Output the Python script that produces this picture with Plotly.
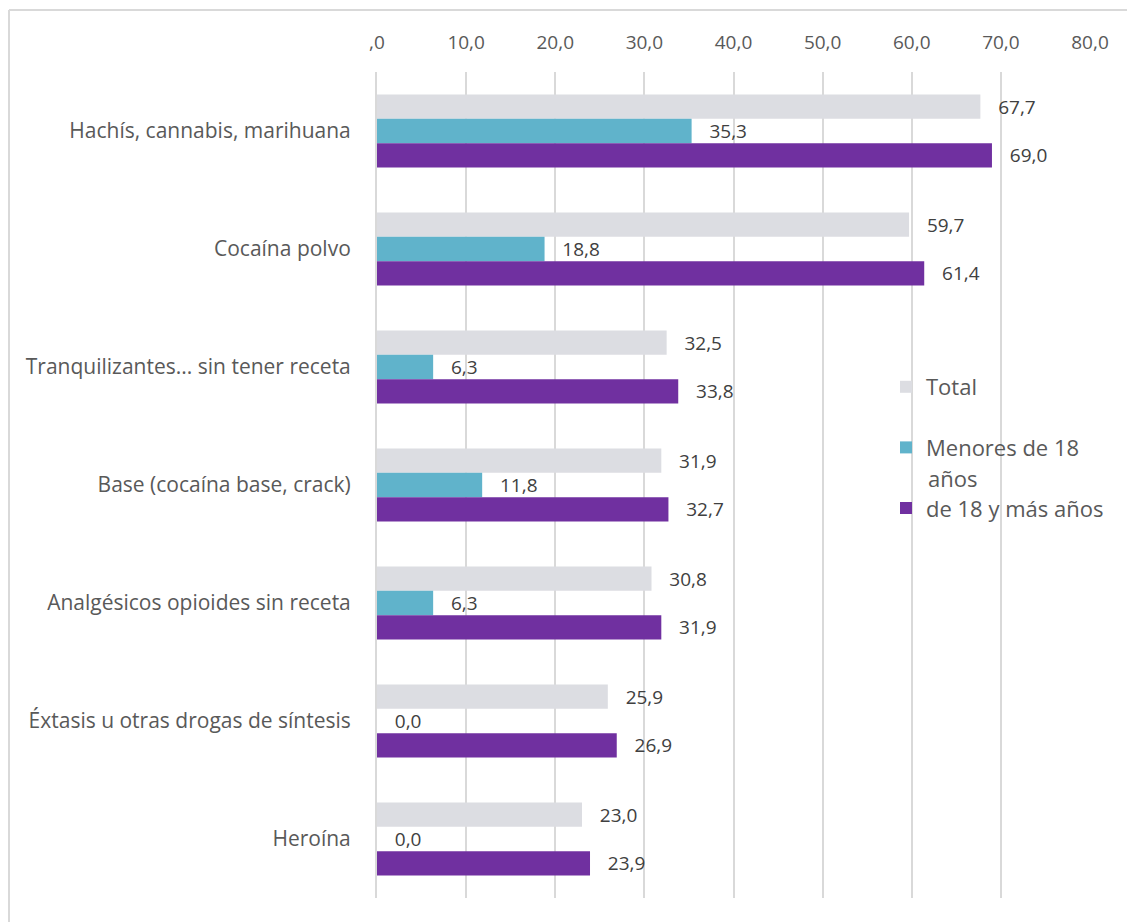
import plotly.graph_objects as go

categories = [
    "Hachís, cannabis, marihuana",
    "Cocaína polvo",
    "Tranquilizantes... sin tener receta",
    "Base (cocaína base, crack)",
    "Analgésicos opioides sin receta",
    "Éxtasis u otras drogas de síntesis",
    "Heroína",
]
total = [67.7, 59.7, 32.5, 31.9, 30.8, 25.9, 23.0]
menores = [35.3, 18.8, 6.3, 11.8, 6.3, 0.0, 0.0]
adultos = [69.0, 61.4, 33.8, 32.7, 31.9, 26.9, 23.9]
series_names = ["Total", "Menores de 18", "de 18 y más años"]
legend_extra = "años"
colors = ["#DCDDE2", "#60B3CB", "#7030A0"]
tick_vals = [0, 10, 20, 30, 40, 50, 60, 70, 80]
tick_text = [",0", "10,0", "20,0", "30,0", "40,0", "50,0", "60,0", "70,0", "80,0"]


def fmt(v):
    return "   " + f"{v:.1f}".replace(".", ",")


fig = go.Figure()
for i, (name, vals, col) in enumerate(zip(series_names, [total, menores, adultos], colors)):
    fig.add_trace(go.Bar(
        y=categories, x=vals, name=name, orientation="h",
        legendgroup=f"g{i}",
        marker=dict(color=col, line=dict(width=0)),
        text=[fmt(v) for v in vals], textposition="outside",
        textfont=dict(family="Open Sans", size=19, color="#404040"),
        constraintext="none", cliponaxis=False,
    ))

# page body has an 8px margin; figure coords = page coords - 8
W, H = 1127, 914
L, R, T, B = 369, 45, 64, 24
pw = W - L - R
ph = H - T - B


def px_x(p):
    return (p - L) / pw


def px_y(p):
    return 1 - (p - T) / ph


fig.update_layout(
    width=W, height=H,
    margin=dict(l=L, r=R, t=T, b=B, autoexpand=False),
    barmode="group", bargap=0.38, bargroupgap=0,
    plot_bgcolor="white", paper_bgcolor="white",
    font=dict(family="Open Sans", color="#595959"),
    legend=dict(
        x=px_x(878), y=px_y(358), xanchor="left", yanchor="top",
        bgcolor="rgba(0,0,0,0)", font=dict(size=22, color="#595959"),
        itemwidth=30, tracegroupgap=29,
    ),
    xaxis=dict(
        side="top", range=[0, 80], tickvals=tick_vals, ticktext=tick_text,
        showgrid=True, gridcolor="#D9D9D9", gridwidth=2, zeroline=False,
        showline=False, ticks="", ticklabelstandoff=18,
        tickfont=dict(size=19, color="#595959"),
    ),
    yaxis=dict(
        autorange="reversed", showgrid=False, zeroline=False,
        showline=True, linecolor="#D9D9D9", linewidth=2,
        ticks="", ticklabelstandoff=20,
        tickfont=dict(size=21, color="#595959"),
    ),
    annotations=[
        dict(text=legend_extra, xref="paper", yref="paper",
             x=px_x(918), y=px_y(470), xanchor="left", yanchor="middle",
             showarrow=False, font=dict(size=22, color="#595959")),
    ],
    shapes=[
        dict(type="line", xref="paper", yref="paper",
             x0=px_x(1), x1=px_x(1140), y0=px_y(2), y1=px_y(2),
             line=dict(color="#D9D9D9", width=2)),
        dict(type="line", xref="paper", yref="paper",
             x0=px_x(1), x1=px_x(1), y0=px_y(2), y1=px_y(930),
             line=dict(color="#D9D9D9", width=2)),
    ],
)

fig.write_html("out.html")
